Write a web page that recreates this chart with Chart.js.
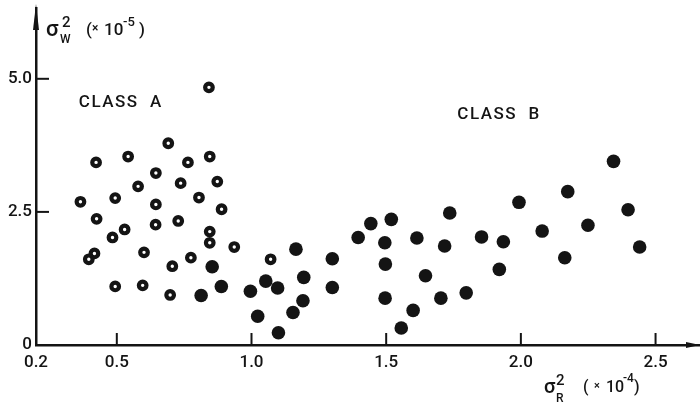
<!DOCTYPE html>
<html>
<head>
<meta charset="utf-8">
<script src="https://cdn.jsdelivr.net/npm/chart.js@4"></script>
<style>
  body { margin: 0; background: #fff; }
  #wrap { width: 700px; height: 403px; }
</style>
</head>
<body>
<div id="wrap"><canvas id="scatter" width="700" height="403"></canvas></div>
<script>
// sigma_R^2 (x1e-4) and sigma_W^2 (x1e-5)
const classAX = [0.365, 0.423, 0.542, 0.764, 0.845, 0.645, 0.579, 0.737, 0.873, 0.494,
                 0.805, 0.645, 0.889, 0.425, 0.644, 0.728, 0.529, 0.484, 0.845, 0.845,
                 0.936, 0.417, 0.396, 0.601, 0.775, 0.706, 1.071, 0.494, 0.596, 0.698,
                 0.842, 0.691];
const classAY = [2.69, 3.43, 3.54, 3.43, 3.54, 3.23, 2.98, 3.04, 3.07, 2.76,
                 2.77, 2.64, 2.55, 2.37, 2.26, 2.33, 2.17, 2.02, 2.13, 1.92,
                 1.84, 1.72, 1.61, 1.74, 1.64, 1.48, 1.61, 1.10, 1.12, 0.94,
                 4.84, 3.79];

const classBX = [0.854, 0.888, 0.813, 0.996, 1.053, 1.097, 1.023, 1.100, 1.154, 1.191,
                 1.194, 1.165, 1.300, 1.300, 1.396, 1.443, 1.519, 1.495, 1.497, 1.496,
                 1.556, 1.600, 1.646, 1.614, 1.703, 1.717, 1.736, 1.797, 1.854, 1.935,
                 1.920, 1.993, 2.079, 2.174, 2.163, 2.249, 2.344, 2.398, 2.441];
const classBY = [1.47, 1.10, 0.93, 1.01, 1.20, 1.07, 0.54, 0.23, 0.61, 0.83,
                 1.27, 1.80, 1.62, 1.08, 2.02, 2.28, 2.36, 1.92, 1.52, 0.88,
                 0.32, 0.65, 1.30, 2.01, 0.88, 1.86, 2.48, 0.98, 2.03, 1.94,
                 1.42, 2.68, 2.14, 2.88, 1.64, 2.25, 3.45, 2.54, 1.84];

const xTicks = [0.2, 0.5, 1.0, 1.5, 2.0, 2.5];
const xTickLabels = ['0.2', '0.5', '1.0', '1.5', '2.0', '2.5'];
const yTicks = [0, 2.5, 5.0];
const yTickLabels = ['0', '2.5', '5.0'];

const ink = '#141414';
const fontFam = 'Roboto, "DejaVu Sans", sans-serif';

const toPoints = (xs, ys) => xs.map((x, i) => ({ x: x, y: ys[i] }));

// inside tick marks, arrowheads, class labels and axis titles
const decorations = {
  id: 'decorations',
  afterDraw(chart) {
    const { ctx, chartArea, scales } = chart;
    const xs = scales.x, ys = scales.y;
    ctx.save();
    ctx.strokeStyle = ink;
    ctx.fillStyle = ink;
    ctx.lineWidth = 2;

    xTicks.forEach(v => {
      if (v <= xs.min + 0.05) return;
      const px = xs.getPixelForValue(v);
      ctx.beginPath();
      ctx.moveTo(px, chartArea.bottom);
      ctx.lineTo(px, chartArea.bottom - 12);
      ctx.stroke();
    });
    yTicks.forEach(v => {
      if (v <= 0) return;
      const py = ys.getPixelForValue(v);
      ctx.beginPath();
      ctx.moveTo(chartArea.left, py);
      ctx.lineTo(chartArea.left + 13, py);
      ctx.stroke();
    });

    // y arrow
    const ax = chartArea.left;
    ctx.beginPath();
    ctx.moveTo(ax, chartArea.top - 4);
    ctx.lineTo(ax - 3, chartArea.top + 22);
    ctx.lineTo(ax + 3, chartArea.top + 22);
    ctx.closePath();
    ctx.fill();
    // x arrow
    const ay = chartArea.bottom;
    ctx.beginPath();
    ctx.moveTo(chartArea.right, ay);
    ctx.lineTo(chartArea.right - 14, ay - 3);
    ctx.lineTo(chartArea.right - 14, ay + 3);
    ctx.closePath();
    ctx.fill();

    // class labels
    ctx.font = '500 17px ' + fontFam;
    ctx.textBaseline = 'middle';
    ctx.textAlign = 'left';
    ctx.letterSpacing = '1.5px';
    ctx.fillText('CLASS  A', xs.getPixelForValue(0.359), ys.getPixelForValue(4.55));
    ctx.fillText('CLASS  B', xs.getPixelForValue(1.764), ys.getPixelForValue(4.32));
    ctx.letterSpacing = '0px';

    // axis titles
    const put = (txt, size, x, y) => {
      ctx.font = '500 ' + size + 'px ' + fontFam;
      ctx.textBaseline = 'alphabetic';
      ctx.fillText(txt, x, y);
    };
    put('σ', 22, 46, 36);
    put('2', 15, 62, 27);
    put('W', 12, 60, 43);
    put('(', 17, 86, 35);
    put('×', 12, 92, 32);
    put('10', 17, 104, 35);
    put('-5', 13, 123, 26);
    put(')', 17, 139, 35);

    put('σ', 20, 544, 393);
    put('2', 15, 556, 385);
    put('R', 12, 556, 402);
    put('(', 16, 583, 392);
    put('×', 11, 594, 389);
    put('10', 16, 606, 392);
    put('-4', 12, 623, 382);
    put(')', 16, 634, 392);

    ctx.restore();
  }
};

new Chart(document.getElementById('scatter').getContext('2d'), {
  type: 'scatter',
  data: {
    datasets: [{
      label: 'Class A',
      data: toPoints(classAX, classAY),
      pointStyle: 'circle',
      pointRadius: 3.8,
      borderWidth: 4.2,
      borderColor: ink,
      backgroundColor: '#fff'
    }, {
      label: 'Class B',
      data: toPoints(classBX, classBY),
      pointStyle: 'circle',
      pointRadius: 6.8,
      borderWidth: 0,
      backgroundColor: ink
    }]
  },
  options: {
    responsive: false,
    animation: false,
    events: [],
    layout: { autoPadding: false, padding: { top: 8, right: 0, left: 0, bottom: 0 } },
    plugins: { legend: { display: false }, tooltip: { enabled: false } },
    scales: {
      x: {
        type: 'linear',
        min: 0.2,
        max: 2.665,
        afterFit: s => { s.height = 58; s.paddingLeft = 0; s.paddingRight = 0; },
        afterBuildTicks: s => { s.ticks = xTicks.map(v => ({ value: v })); },
        grid: { display: false, drawTicks: false },
        border: { display: true, color: ink, width: 2.5 },
        ticks: {
          autoSkip: false,
          maxRotation: 0,
          padding: 8,
          color: ink,
          font: { family: fontFam, size: 17, weight: 500 },
          callback: (v) => xTickLabels[xTicks.indexOf(v)]
        }
      },
      y: {
        type: 'linear',
        min: 0,
        max: 6.33,
        afterFit: s => { s.width = 36; s.paddingTop = 0; s.paddingBottom = 0; },
        afterBuildTicks: s => { s.ticks = yTicks.map(v => ({ value: v })); },
        grid: { display: false, drawTicks: false },
        border: { display: true, color: ink, width: 2.5 },
        ticks: {
          autoSkip: false,
          padding: 4,
          color: ink,
          font: { family: fontFam, size: 17, weight: 500 },
          callback: (v) => yTickLabels[yTicks.indexOf(v)]
        }
      }
    }
  },
  plugins: [decorations]
});
</script>
</body>
</html>
